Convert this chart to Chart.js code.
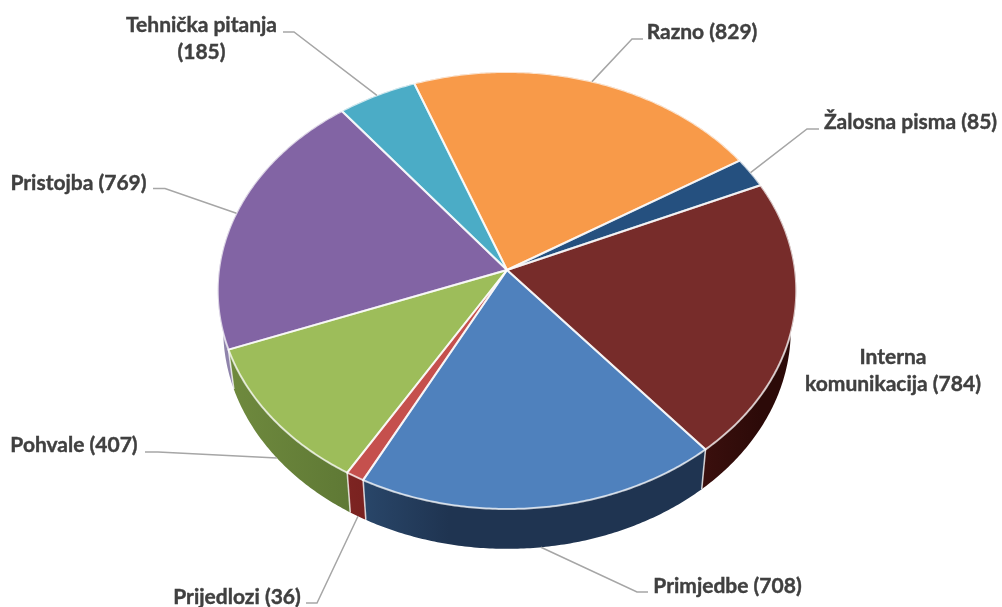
<!DOCTYPE html>
<html>
<head>
<meta charset="utf-8">
<style>html,body{margin:0;padding:0;background:#fff}canvas{display:block}</style>
<script src="https://cdn.jsdelivr.net/npm/chart.js@4"></script>
</head>
<body>
<canvas id="c" width="1002" height="607"></canvas>
<script>
const categories = ['Razno','Žalosna pisma','Interna komunikacija','Primjedbe','Prijedlozi','Pohvale','Pristojba','Tehnička pitanja'];
const values = [829,85,784,708,36,407,769,185];
const topColors = ['#F89A49','#25507F','#772C2A','#4F81BD','#C5504D','#9DBD5A','#8264A4','#4BACC6'];
const wallLeft  = ['#a8622c','#1b3557','#3a0f0d','#294669','#7d2422','#6f8a3e','#8f84ab','#2f7488'];
const wallRight = ['#a8622c','#1b3557','#2c0a08','#1f3451','#7a2220','#5f7935','#6a5a88','#2f7488'];

// one label per slice: text lines, anchor of the text, and leader elbow
const labelLines = [['Razno (829)'],['Žalosna pisma (85)'],['Interna','komunikacija (784)'],['Primjedbe (708)'],['Prijedlozi (36)'],['Pohvale (407)'],['Pristojba (769)'],['Tehnička pitanja','(185)']];
const labelBox = [
  {x:702,y:32,w:[643,632],ly:39,side:'top'},
  {x:910.5,y:122,w:[819,807],ly:129,side:'top'},
  {x:893,y:357,w:null},
  {x:727.5,y:586,w:[648,637],ly:592,side:'bottom'},
  {x:237,y:597,w:[306,317],ly:603,side:'bottom'},
  {x:74,y:445,w:[145,158],ly:452,side:'bottom'},
  {x:78.5,y:183,w:[153,165],ly:188.5,side:'top'},
  {x:201.5,y:25,w:[283,294],ly:32,side:'top'}
];

// projected disc: a perspective view of a circle
const K = -0.0938;
const topDisc = {cx:507, cy:270, rx:288, ry:216.6};
const botDisc = {cx:507, cy:309.4, rx:282.5, ry:217};
function proj(d,t){
  const s=Math.sin(t), c=Math.cos(t), q=1+K*s;
  return [d.cx+d.rx*c/q, d.cy+d.ry*s/q];
}
function arcPath(ctx,d,a,b,first){
  const n=Math.max(2,Math.ceil(Math.abs(b-a)/0.01));
  for(let i=0;i<=n;i++){
    const p=proj(d,a+(b-a)*i/n);
    if(i===0&&first) ctx.moveTo(p[0],p[1]); else ctx.lineTo(p[0],p[1]);
  }
}
const EDGE='rgba(255,255,255,0.72)';
const perspectivePie = {
  id:'perspectivePie',
  beforeDatasetsDraw(chart){
    const ctx=chart.ctx, arcs=chart.getDatasetMeta(0).data;
    ctx.save();
    ctx.lineJoin='round';
    // side walls
    arcs.forEach((arc,i)=>{
      const a=arc.startAngle,b=arc.endAngle;
      const p0=proj(topDisc,a),p1=proj(topDisc,b);
      const g=ctx.createLinearGradient(Math.min(p0[0],p1[0]),0,Math.max(p0[0],p1[0]),0);
      g.addColorStop(0,wallLeft[i]);
      g.addColorStop(i===3?0.25:1,wallRight[i]);
      if(i===3) g.addColorStop(1,wallRight[i]);
      ctx.beginPath();
      arcPath(ctx,topDisc,a,b,true);
      arcPath(ctx,botDisc,b,a,false);
      ctx.closePath();
      ctx.fillStyle=g;
      ctx.fill();
    });
    // separators on the front wall
    ctx.strokeStyle=EDGE; ctx.lineWidth=1.6;
    arcs.forEach(arc=>{
      const s=Math.sin(arc.startAngle);
      if(s<0.3) return;
      const p=proj(topDisc,arc.startAngle),q=proj(botDisc,arc.startAngle);
      ctx.beginPath();ctx.moveTo(p[0],p[1]);ctx.lineTo(q[0],q[1]);ctx.stroke();
    });
    // top faces
    arcs.forEach(arc=>{
      ctx.beginPath();
      ctx.moveTo(topDisc.cx,topDisc.cy);
      arcPath(ctx,topDisc,arc.startAngle,arc.endAngle,false);
      ctx.closePath();
      ctx.fillStyle=arc.options.backgroundColor;
      ctx.fill();
    });
    ctx.strokeStyle=EDGE; ctx.lineWidth=2;
    arcs.forEach(arc=>{
      ctx.beginPath();
      ctx.moveTo(topDisc.cx,topDisc.cy);
      arcPath(ctx,topDisc,arc.startAngle,arc.endAngle,false);
      ctx.closePath();
      ctx.stroke();
    });
    ctx.restore();
    return false;
  },
  afterDraw(chart){
    const ctx=chart.ctx, arcs=chart.getDatasetMeta(0).data;
    ctx.save();
    // leaders
    ctx.strokeStyle='#a6a6a6'; ctx.lineWidth=1.5;
    arcs.forEach((arc,i)=>{
      const b=labelBox[i];
      if(!b.w) return;
      const mid=(arc.startAngle+arc.endAngle)/2;
      const p=proj(b.side==='bottom'?botDisc:topDisc,mid);
      ctx.beginPath();
      ctx.moveTo(b.w[0],b.ly);ctx.lineTo(b.w[1],b.ly);ctx.lineTo(p[0],p[1]);
      ctx.stroke();
    });
    // text
    ctx.fillStyle='#404040';
    ctx.strokeStyle='#404040';
    ctx.lineWidth=0.4;
    ctx.font='bold 21px Lato, "Open Sans", sans-serif';
    ctx.textAlign='center'; ctx.textBaseline='middle';
    labelLines.forEach((lines,i)=>{
      lines.forEach((t,j)=>{
        const y=labelBox[i].y+j*27.5;
        ctx.fillText(t,labelBox[i].x,y);
        ctx.strokeText(t,labelBox[i].x,y);
      });
    });
    ctx.restore();
  }
};
new Chart(document.getElementById('c'),{
  type:'pie',
  data:{labels:categories,datasets:[{data:values,backgroundColor:topColors,borderWidth:0}]},
  options:{
    responsive:false,animation:false,rotation:339.5,
    plugins:{legend:{display:false},tooltip:{enabled:false}}
  },
  plugins:[perspectivePie]
});
</script>
</body>
</html>
